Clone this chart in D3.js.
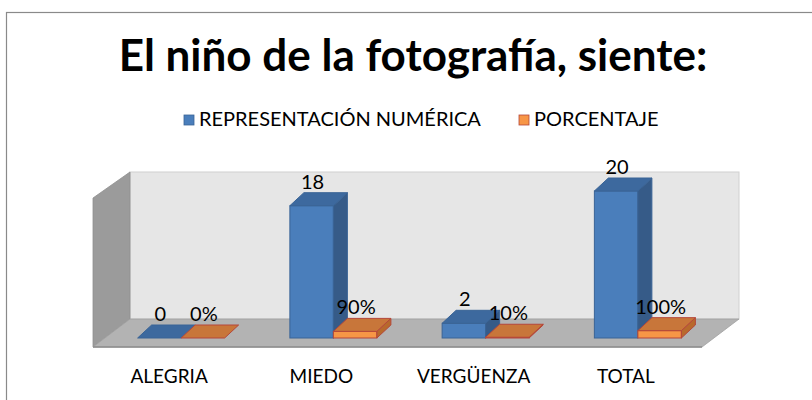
<!DOCTYPE html>
<html><head><meta charset="utf-8">
<script src="https://cdn.jsdelivr.net/npm/d3@7"></script>
<style>body{margin:0;background:#fff}svg{display:block}</style>
</head><body>
<svg id="c" width="812" height="400"></svg>
<script>
const title = "El niño de la fotografía, siente:";
const categories = ["ALEGRIA", "MIEDO", "VERGÜENZA", "TOTAL"];
const seriesNames = ["REPRESENTACIÓN NUMÉRICA", "PORCENTAJE"];
const numerica = [0, 18, 2, 20];
const porcentaje = [0, 0.9, 0.1, 1.0];
const porcentajeLabels = ["0%", "90%", "10%", "100%"];
const numericaLabels = ["0", "18", "2", "20"];

const svg = d3.select("#c");
const font = "Lato, 'Open Sans', sans-serif";

// frame
svg.append("rect").attr("x",6.5).attr("y",12.5).attr("width",830).attr("height",420)
  .attr("fill","#fff").attr("stroke","#8a8a8a").attr("stroke-width",1.2);

// title
svg.append("text").attr("x",413).attr("y",71).attr("text-anchor","middle")
  .attr("font-family",font).attr("font-weight","bold").attr("font-size",44)
  .attr("fill","#000").text(title);

// geometry
const floorFrontY = 347, floorLeft = 93, floorRight = 702;
const depth = {dx:37, dy:-28};
const barOff = {dx:12, dy:-9};
const barDepth = {dx:14, dy:-13};
const x = d3.scaleBand().domain(categories).range([floorLeft, floorRight]);
const y = d3.scaleLinear().domain([0,20]).range([0,147]);
const barW = 43.5;

// walls
const backTop = floorFrontY + depth.dy - y(20);
const pts = a => a.map(p=>p.join(",")).join(" ");
svg.append("rect").attr("x",floorLeft+depth.dx).attr("y",backTop)
  .attr("width",floorRight-floorLeft).attr("height",y(20))
  .attr("fill","#e6e6e6").attr("stroke","#d0d0d0").attr("stroke-width",1);
svg.append("polygon").attr("points",pts([[floorLeft,floorFrontY-y(20)-2],[floorLeft+depth.dx,backTop],[floorLeft+depth.dx,floorFrontY+depth.dy],[floorLeft,floorFrontY]]))
  .attr("fill","#9b9b9b").attr("stroke","#8f8f8f").attr("stroke-width",0.8);
svg.append("polygon").attr("points",pts([[floorLeft,floorFrontY],[floorLeft+depth.dx,floorFrontY+depth.dy],[floorRight+depth.dx,floorFrontY+depth.dy],[floorRight,floorFrontY]]))
  .attr("fill","#b3b3b3").attr("stroke","#a0a0a0").attr("stroke-width",0.8);
svg.append("line").attr("x1",floorLeft).attr("x2",floorRight).attr("y1",floorFrontY).attr("y2",floorFrontY)
  .attr("stroke","#8c8c8c").attr("stroke-width",1.5);

const styles = [
  {front:"#4a7ebb", side:"#365b88", top:"#3d699e", stroke:"#3a6496"},
  {front:"#f79646", side:"#b8692c", top:"#c8763a", stroke:"#b5473a"}
];
const base = floorFrontY + barOff.dy;

function drawBar(cat, i, v, s) {
  const x0 = x(cat) + x.bandwidth()/2 + barOff.dx - barW + s*barW;
  const h = y(v);
  const st = styles[s];
  const g = svg.append("g");
  const t = base - h;
  const dx = barDepth.dx, dy = barDepth.dy;
  if (h > 0.5) {
    g.append("rect").attr("x",x0).attr("y",t).attr("width",barW).attr("height",h)
      .attr("fill",st.front).attr("stroke",st.stroke).attr("stroke-width",1);
    g.append("polygon").attr("points",pts([[x0+barW,t],[x0+barW+dx,t+dy],[x0+barW+dx,base+dy],[x0+barW,base]]))
      .attr("fill",st.side).attr("stroke",st.stroke).attr("stroke-width",1);
  }
  g.append("polygon").attr("points",pts([[x0,t],[x0+dx,t+dy],[x0+barW+dx,t+dy],[x0+barW,t]]))
    .attr("fill",st.top).attr("stroke",st.stroke).attr("stroke-width",1);
  return {cx: x0 + barW/2 + 1, top: t + dy};
}

categories.forEach((c,i)=>{
  const a = drawBar(c,i,numerica[i],0);
  const b = drawBar(c,i,porcentaje[i],1);
  svg.append("text").attr("x",a.cx).attr("y",a.top-4).attr("text-anchor","middle")
    .attr("font-family",font).attr("font-size",20).attr("fill","#000").text(numericaLabels[i]);
  svg.append("text").attr("x",b.cx).attr("y",b.top-4).attr("text-anchor","middle")
    .attr("font-family",font).attr("font-size",20).attr("fill","#000").text(porcentajeLabels[i]);
});

// category labels
svg.append("g").selectAll("text").data(categories).join("text")
  .attr("x",d=>x(d)+x.bandwidth()/2).attr("y",383).attr("text-anchor","middle")
  .attr("font-family",font).attr("font-size",19).attr("fill","#000").text(d=>d);

// legend
const legend = [{name:seriesNames[0], x:184}, {name:seriesNames[1], x:519}];
legend.forEach((l,i)=>{
  svg.append("rect").attr("x",l.x).attr("y",115).attr("width",10).attr("height",10)
    .attr("fill",styles[i].front).attr("stroke",styles[i].stroke).attr("stroke-width",0.8);
  svg.append("text").attr("x",l.x+15).attr("y",126).attr("font-family",font).attr("font-size",20)
    .attr("fill","#000").text(l.name);
});
</script>
</body></html>
